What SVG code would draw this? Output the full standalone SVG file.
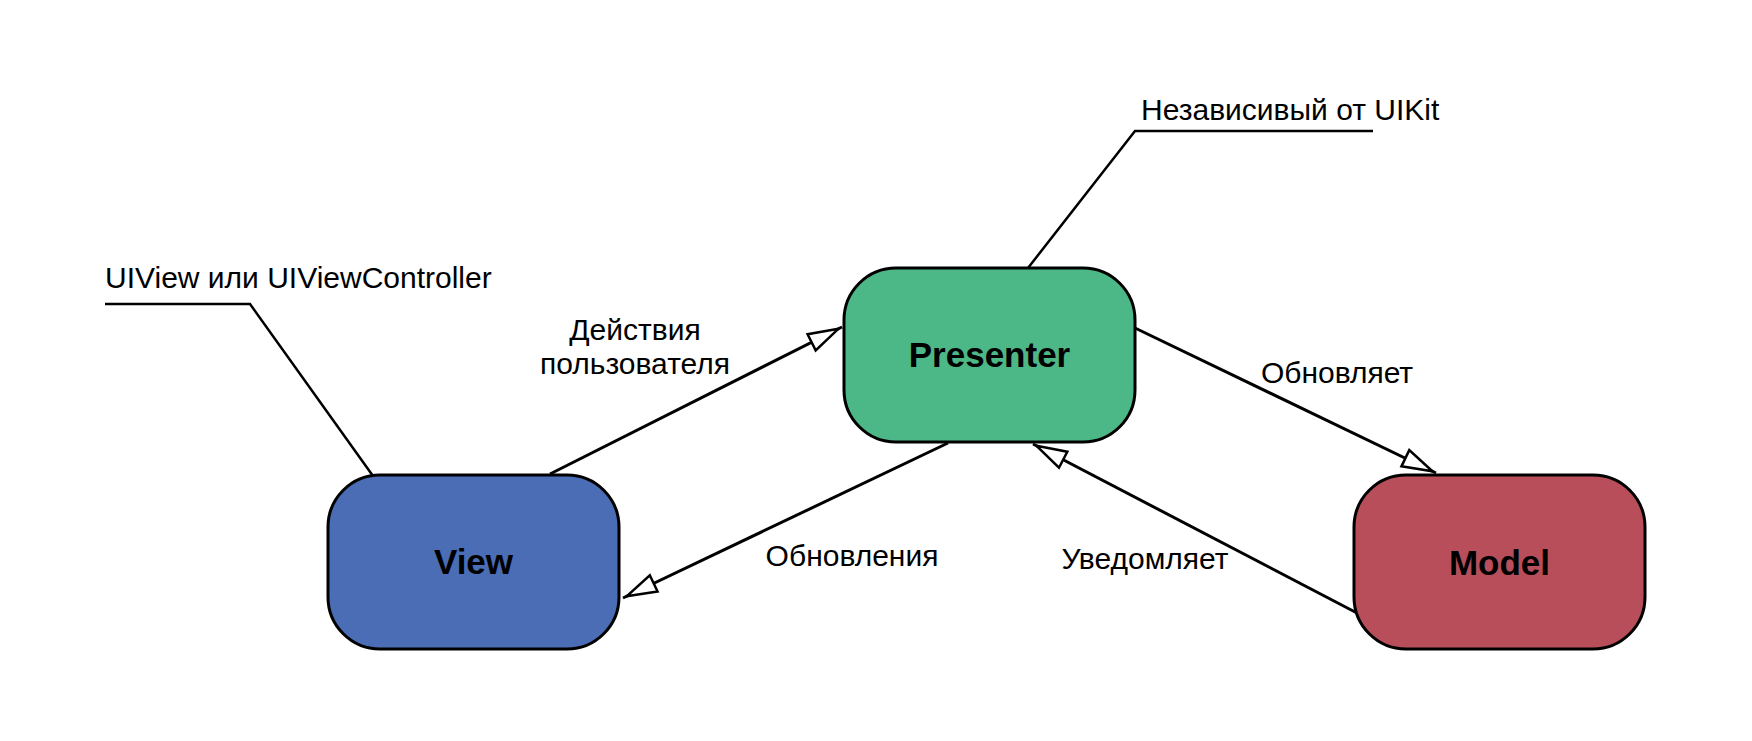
<svg xmlns="http://www.w3.org/2000/svg" width="1752" height="741" viewBox="0 0 1752 741">
  <defs>
    <style>
      .node { stroke: #000; stroke-width: 3; }
      .ntext { font-family: "Liberation Sans", Arial, sans-serif; font-size: 35px; font-weight: bold; fill: #000; text-anchor: middle; }
      .label { font-family: "Liberation Sans", Arial, sans-serif; font-size: 30px; fill: #000; }
      .mid { text-anchor: middle; }
      .conn { fill: none; stroke: #000; stroke-width: 3; marker-end: url(#open); }
      .note { fill: none; stroke: #000; stroke-width: 2.5; }
    </style>
    <marker id="open" markerUnits="userSpaceOnUse" markerWidth="44" markerHeight="28" viewBox="-40 -14 44 28" refX="0" refY="0" orient="auto">
      <path d="M-4,0 L-34,-9 L-34,9 Z" fill="#fff" stroke="#000" stroke-width="2.5"/>
    </marker>
  </defs>
  <rect width="1752" height="741" fill="#fff"/>

  <g id="connectors">
    <path class="conn" d="M550,474 L842,327"/>
    <path class="conn" d="M948,443 L623,598"/>
    <path class="conn" d="M1135,328 L1436,473"/>
    <path class="conn" d="M1357,613 L1033,444"/>
    <path class="note" d="M105,304 L250,304 L373,476"/>
    <path class="note" d="M1373,131 L1135,131 L1028,268"/>
  </g>

  <g id="labels">
    <text class="label mid" x="635" y="340">Действия</text>
    <text class="label mid" x="635" y="374">пользователя</text>
    <text class="label mid" x="852" y="566">Обновления</text>
    <text class="label mid" x="1337" y="383">Обновляет</text>
    <text class="label mid" x="1145" y="569">Уведомляет</text>
    <text class="label" x="105" y="288">UIView или UIViewController</text>
    <text class="label" x="1141" y="120">Независивый от UIKit</text>
  </g>

  <g id="view">
    <rect class="node" x="328" y="475" width="291" height="174" rx="52" ry="52" fill="#4A6DB5"/>
    <text class="ntext" x="473.5" y="574">View</text>
  </g>
  <g id="presenter">
    <rect class="node" x="844" y="268" width="291" height="174" rx="52" ry="52" fill="#4DB887"/>
    <text class="ntext" x="989.5" y="367">Presenter</text>
  </g>
  <g id="model">
    <rect class="node" x="1354" y="475" width="291" height="174" rx="52" ry="52" fill="#B84E5A"/>
    <text class="ntext" x="1499.5" y="575">Model</text>
  </g>
</svg>
